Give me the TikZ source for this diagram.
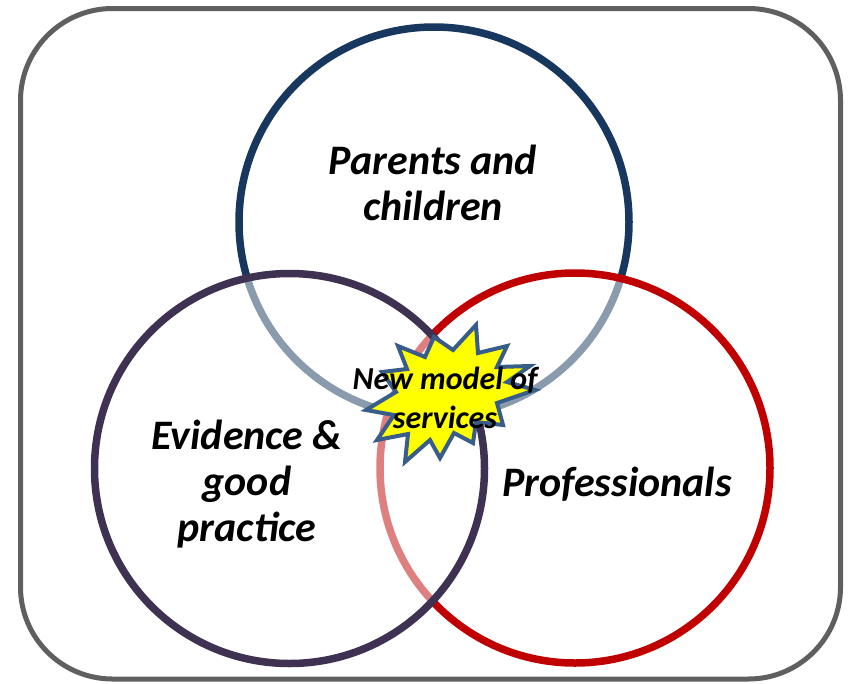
\documentclass[tikz,border=0pt]{standalone}
\usepackage{fontspec}
\setmainfont{Carlito}
\definecolor{framegray}{HTML}{5F5F5F}
\definecolor{navyring}{HTML}{17375E}
\definecolor{purplering}{HTML}{3F3151}
\definecolor{redring}{HTML}{C00000}
\definecolor{burstedge}{HTML}{385D8A}
\definecolor{burstfill}{HTML}{FFFF00}
\begin{document}
\begin{tikzpicture}[x=1pt,y=-1pt,
  frame/.style={draw=framegray,line width=5pt,rounded corners=92pt},
  ring/.style={line width=7.5pt},
  veil/.style={fill=white,fill opacity=0.5},
  biglabel/.style={font=\fontsize{42}{46}\selectfont\bfseries\itshape,align=center,text=black,inner sep=0pt},
  burst/.style={draw=burstedge,fill=burstfill,line width=4pt,line join=miter,miter limit=10},
  burstlabel/.style={font=\fontsize{32}{39}\selectfont\bfseries\itshape,align=center,text=black,inner sep=0pt}]
\useasboundingbox (0,0) rectangle (848,683);

% outer rounded frame
\draw[frame] (20.5,8.5) rectangle (840.5,679);

% circle centres
\coordinate (ctop) at (434,222);
\coordinate (cright) at (575,468);
\coordinate (cleft) at (289.5,468.5);

% top circle
\draw[ring,draw=navyring] (ctop) circle (195);
% right circle, its half-white fill softens the strokes underneath
\fill[veil] (cright) circle (195);
\draw[ring,draw=redring] (cright) circle (195);
% left circle
\fill[veil] (cleft) circle (195);
\draw[ring,draw=purplering] (cleft) circle (195);

% circle captions
\node[biglabel] (parents) at (433,183) {Parents and\\children};
\node[biglabel] (evidence) at (247,484) {Evidence \&\\good\\practice};
\node[biglabel] (prof) at (617,484) {Professionals};

% starburst in the middle
\draw[burst] (476,325) -- (478,353) -- (507,346) -- (497,367) -- (530,366)
  -- (507,382) -- (535,390) -- (497,403) -- (503,425) -- (476,422)
  -- (473,443) -- (454,433) -- (440,458) -- (430,440) -- (405,462)
  -- (408,434) -- (377,440) -- (394,415) -- (366,410) -- (396,392)
  -- (382,372) -- (407,369) -- (398,346) -- (425,357) -- (434,337)
  -- (453,350) -- cycle;
\node[burstlabel] (model) at (445,398) {New model of\\services};
\end{tikzpicture}
\end{document}
